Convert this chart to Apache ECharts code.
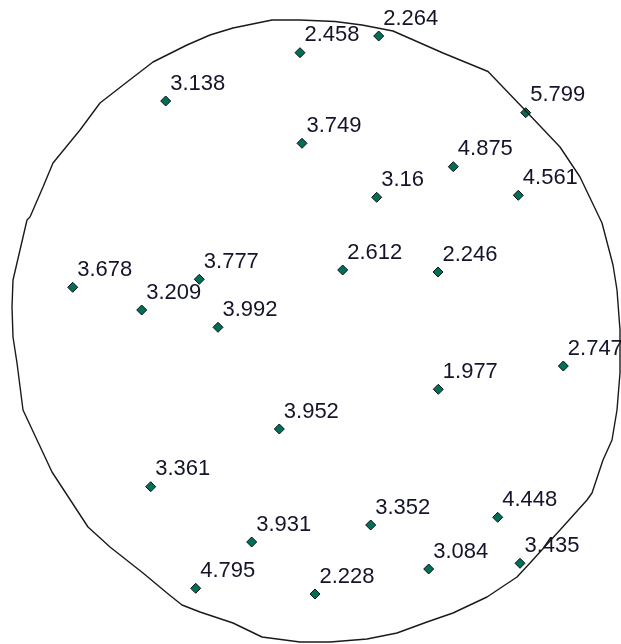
<!DOCTYPE html>
<html>
<head>
<meta charset="utf-8">
<script src="https://cdn.jsdelivr.net/npm/echarts@6/dist/echarts.min.js"></script>
<style>
  html, body { margin: 0; padding: 0; background: #ffffff; }
  #chart { width: 621px; height: 644px; }
</style>
</head>
<body>
<div id="chart"></div>
<script>
// Sample site coordinates (easting, northing in map units) and measured values
const eastings = [378.7, 300, 165.7, 525.7, 302, 453.3, 376.7, 518.3, 342.7, 438,
                  72.7, 199.3, 141.7, 218, 563.3, 438.3, 279.3, 150.7, 497.7, 370.7,
                  251.7, 520, 428.7, 195.7, 315];
const northings = [608, 591.3, 543, 531.3, 500.7, 477.3, 446.7, 448.7, 374, 372,
                   356.7, 364.7, 334, 316.7, 278, 254.7, 215, 157.3, 126.7, 119,
                   102, 80.7, 75, 55.7, 50];
const siteValues = [2.264, 2.458, 3.138, 5.799, 3.749, 4.875, 3.16, 4.561, 2.612, 2.246,
                    3.678, 3.777, 3.209, 3.992, 2.747, 1.977, 3.952, 3.361, 4.448, 3.352,
                    3.931, 3.435, 3.084, 4.795, 2.228];

// Study area outline (easting, northing), traced clockwise
const boundaryE = [30, 43, 53, 80, 100, 127, 153, 187, 210, 233, 272, 300, 300, 335, 362, 393,
                   443, 488, 523, 560, 580, 602, 613, 617, 620, 620, 617, 612, 603, 592, 587,
                   560, 530, 517, 487, 453, 427, 397, 367, 330, 300, 262, 233, 200, 182, 167,
                   143, 110, 88, 52, 23, 17, 13, 12, 13, 27, 30];
const boundaryN = [427, 457, 481, 514, 541, 562, 582, 599, 609, 616, 624, 624, 622.5, 622.5, 619, 613,
                   591, 572.5, 536, 497, 467, 421, 379, 354, 314, 271, 234, 204, 184, 151, 144,
                   114, 81, 67, 47, 31, 22, 11, 5, 2, 2, 7, 21, 32, 39, 51,
                   71, 97, 117, 172, 234, 281, 307, 337, 364, 424, 427];

const sites = eastings.map((e, i) => [e, northings[i], siteValues[i]]);
const outline = boundaryE.map((e, i) => [e, boundaryN[i]]);

const chart = echarts.init(document.getElementById('chart'), null, { renderer: 'canvas' });
chart.setOption({
  animation: false,
  backgroundColor: '#ffffff',
  grid: { left: 0, right: 0, top: 0, bottom: 0 },
  xAxis: { type: 'value', min: 0, max: 621, show: false },
  yAxis: { type: 'value', min: 0, max: 644, show: false },
  series: [
    {
      type: 'scatter',
      data: sites,
      symbol: 'diamond',
      symbolSize: 10,
      itemStyle: { color: '#006f58', borderColor: '#111111', borderWidth: 1, opacity: 1 },
      label: {
        show: true,
        position: [10, -1],
        align: 'left',
        verticalAlign: 'bottom',
        fontFamily: 'Liberation Sans, Arial, sans-serif',
        fontSize: 22,
        color: '#14142a',
        formatter: p => String(p.value[2])
      },
      z: 2
    },
    {
      type: 'line',
      data: outline,
      symbol: 'none',
      silent: true,
      lineStyle: { color: '#1a1a1a', width: 1.4 },
      z: 3
    }
  ]
});
</script>
</body>
</html>
